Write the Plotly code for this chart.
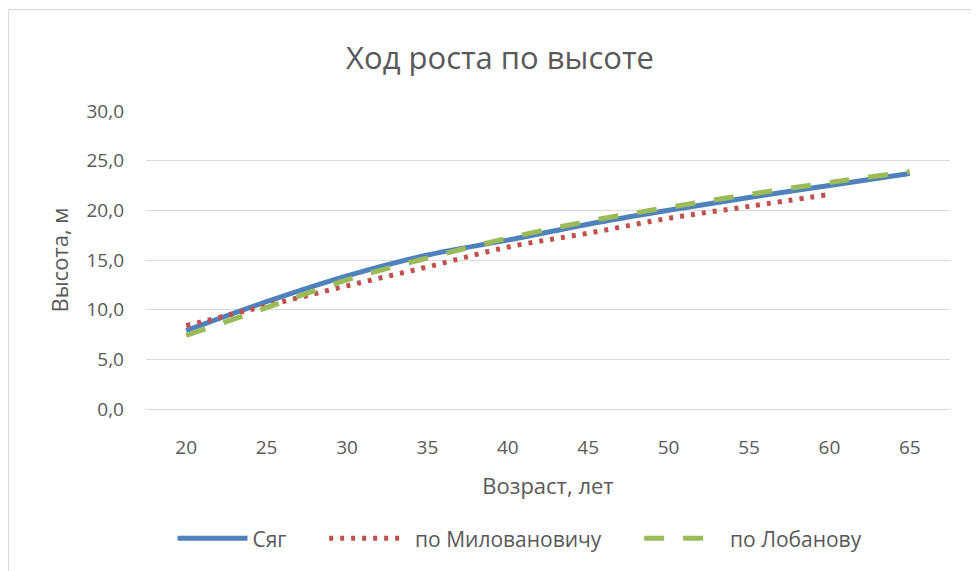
import plotly.graph_objects as go

# Data
ages = ["20", "25", "30", "35", "40", "45", "50", "55", "60", "65"]
syag = [7.9, 10.8, 13.4, 15.5, 17.0, 18.6, 20.0, 21.3, 22.5, 23.7]
milovanovich = [8.4, 10.4, 12.4, 14.3, 16.3, 17.7, 19.2, 20.4, 21.6]
lobanov = [7.4, 10.2, 13.0, 15.2, 17.2, 18.9, 20.3, 21.6, 22.8, 23.9]
y_ticks = [0, 5, 10, 15, 20, 25, 30]

FONT = "Open Sans"
GREY = "#595959"
PAD = "\u00a0" * 6  # extra room between legend entries

fig = go.Figure()

fig.add_trace(go.Scatter(
    x=ages, y=syag, name="Сяг" + PAD, mode="lines",
    line=dict(color="#4F81BD", width=5, shape="spline"),
))
fig.add_trace(go.Scatter(
    x=ages[:len(milovanovich)], y=milovanovich, name="\u00a0\u00a0по Миловановичу" + PAD, mode="lines",
    line=dict(color="#C0504D", width=5, shape="spline", dash="4px,7px"),
))
fig.add_trace(go.Scatter(
    x=ages, y=lobanov, name="\u00a0\u00a0по Лобанову", mode="lines",
    line=dict(color="#9BBB59", width=5, shape="spline", dash="20px,19px"),
))

# page body has an 8px margin, so the figure is drawn 8px smaller
W, H = 971, 563
L, R, T, B = 138, 29, 103, 159
pw, ph = W - L - R, H - T - B

# chart-area frame (Excel style)
fig.add_shape(
    type="rect", xref="paper", yref="paper", layer="below",
    x0=(0.5 - L) / pw, x1=(W + 10 - L) / pw,
    y0=(H - B - (H + 10)) / ph, y1=(H - B - 0.5) / ph,
    line=dict(color="#d9d9d9", width=1),
)

fig.update_layout(
    width=W, height=H,
    margin=dict(l=L, r=R, t=T, b=B),
    separators=", ",
    title=dict(
        text="Ход роста по высоте", x=492 / W, xanchor="center",
        xref="container", y=1 - 50 / H, yanchor="middle", yref="container",
        font=dict(family=FONT, size=31, color=GREY),
    ),
    xaxis=dict(
        type="category", range=[-0.5, 9.5],
        showgrid=False, zeroline=False, showline=False,
        ticks="", ticklabelstandoff=25,
        tickfont=dict(family=FONT, size=19, color=GREY),
        title=dict(text="Возраст, лет", font=dict(family=FONT, size=22, color=GREY), standoff=19),
    ),
    yaxis=dict(
        range=[0, 30], tickvals=y_ticks, tickformat=".1f",
        showgrid=True, gridcolor="#d9d9d9", gridwidth=1,
        zeroline=True, zerolinecolor="#d9d9d9", zerolinewidth=1,
        ticks="", ticklabelstandoff=21,
        tickfont=dict(family=FONT, size=19, color=GREY),
        title=dict(text="Высота, м", font=dict(family=FONT, size=22, color=GREY), standoff=11),
    ),
    legend=dict(
        orientation="h", x=(512 - L) / pw, xanchor="center",
        y=(H - B - 535) / ph, yanchor="middle",
        font=dict(family=FONT, size=21, color=GREY),
        itemwidth=70,
    ),
    plot_bgcolor="white", paper_bgcolor="white",
    showlegend=True,
)

fig.write_html("out.html")
